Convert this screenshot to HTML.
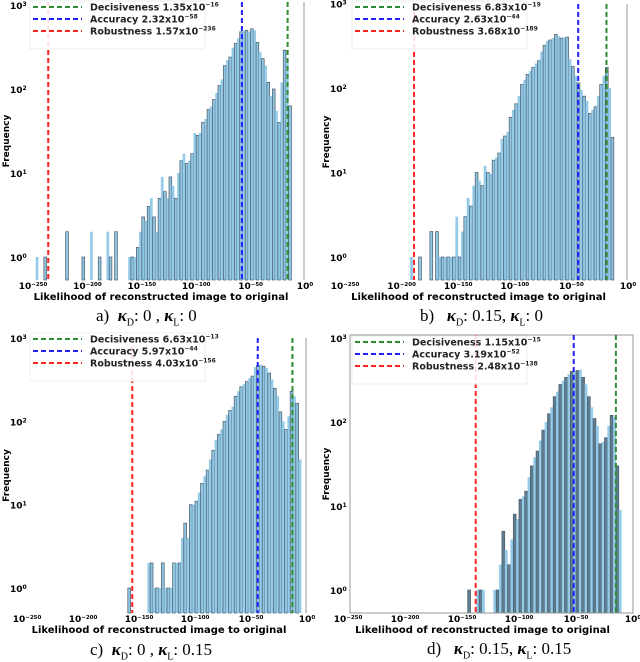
<!DOCTYPE html>
<html><head><meta charset="utf-8">
<style>
body{margin:0;background:#fff;width:640px;height:661px;overflow:hidden;font-family:"Liberation Sans","DejaVu Sans",sans-serif}
svg{position:absolute;left:0;top:0}
.cap{position:absolute;font-family:"Liberation Serif",serif;font-size:17px;white-space:nowrap}
.cap i{font-style:italic;font-weight:bold}
.cap sub{font-size:10px}
</style></head><body>
<svg id="chart" width="640" height="661"></svg>
<div class="cap" style="left:96px;top:306px">a)&nbsp; <i>κ</i><sub>D</sub>: 0 , <i>κ</i><sub>L</sub>: 0</div>
<div class="cap" style="left:420px;top:306px">b)&nbsp;&nbsp; <i>κ</i><sub>D</sub>: 0.15, <i>κ</i><sub>L</sub>: 0</div>
<div class="cap" style="left:90px;top:640px">c)&nbsp; <i>κ</i><sub>D</sub>: 0 , <i>κ</i><sub>L</sub>: 0.15</div>
<div class="cap" style="left:427px;top:639px">d)&nbsp;&nbsp; <i>κ</i><sub>D</sub>: 0.15, <i>κ</i><sub>L</sub>: 0.15</div>
<script>
// bins: log10 likelihood = -250 + 2.5*i ; arrays start at startIndex
const xTicks=[-250,-200,-150,-100,-50,0];
const yTicks=[0,1,2,3];
const startA=35;
const countsA=[1,1,1,1.3,2,3,2.7,4,5,3,2,5,9,6,5,9,7,5,10,14,17,13,14,17,30,28,30,40,44,57,62,75,90,110,130,190,220,240,310,350,400,480,490,500,480,520,500,360,275,230,190,120,83,100,55,40,120,290,210,63];
const sparseIdxA=[1,4,12,18,21,24,27,28,30];
const sparseValA=[1,1,2,1,2,1,2,1,2];
const startB=23;
const countsB=[1,0,0,1,0,0,0,2,0,2,1,1,1,1,1,1,3,1,2,3,5,4,7,10,8,7,12,10,9.6,14,15,17,25,27,30,45,55,65,80,110,125,145,160,175,195,210,270,320,360,370,390,430,410,390,395,400,220,180,140,115,95,80,70,50,55,60,80,110,140,175,100,26];
const startC=36;
const countsC=[1,0,0,0,0,0,0,2,2,1,1,1,2,1,1,1,2,2,2,4,6,4,10,10,11,14,18,22,26,35,45,60,70,80,100,120,135,150,200,230,260,280,300,330,350,450,470,480,460,440,380,320,250,200,130,100,80,115,230,200,165,35];
const startD=42;
const countsD=[1,0,0,1,1,1,0,0,0,1,1,2,5,3,2,4,8,7,12,13,15,22,30,38,45,60,80,100,125,150,200,230,280,310,340,370,400,400,410,420,340,280,200,150,110,90,55,58,65,90,120,115,30,9];
const legendLabels=["Decisiveness","Accuracy","Robustness"];
const legendColors=["#2e8b2e","#1f1fff","#ff2020"];
const mantA=[1.35,2.32,1.57], expA=[-16,-58,-236];
const mantB=[6.83,2.63,3.68], expB=[-19,-44,-189];
const mantC=[6.63,5.97,4.03], expC=[-13,-44,-156];
const mantD=[1.15,3.19,2.48], expD=[-15,-52,-138];

const NS="http://www.w3.org/2000/svg";
const svg=document.getElementById('chart');
function mk(tag,attrs,parent){const e=document.createElementNS(NS,tag);for(const k in attrs)e.setAttribute(k,attrs[k]);(parent||svg).appendChild(e);return e;}

function panel(p){
  const g=mk('g',{});
  
  
  const xs=v=>p.x0+(v+250)/250*(p.x1-p.x0);
  const ys=c=>p.y0-Math.log10(c)*p.dec;
  const bins=p.counts.map((c,k)=>[p.start+k,c]);
  if(p.sIdx)p.sIdx.forEach((i,k)=>bins.push([i,p.sVal[k]]));
  const bw=(p.x1-p.x0)/100;
  bins.forEach(([i,c])=>{
    if(!c)return;
    const x=xs(-250+2.5*i), y=ys(c);
    const dark=i%2===0;
    const r=mk('rect',{x:x,y:y,width:bw,height:Math.max(0,p.bot-y),fill:dark?p.darkFill:'#93cbe9',stroke:dark?'#4b5a66':'none','stroke-width':0.7},g);
    
    
  });
  if(p.box){mk('rect',{x:p.x0+2,y:p.top,width:p.x1-p.x0-2,height:p.bot-p.top,fill:'none',stroke:'#999','stroke-width':1},g);}
  else{const l=mk('line',{x1:p.x1-1,x2:p.x1-1,y1:p.top,y2:p.bot,stroke:'#aaa','stroke-width':1.2},g);}
  [0,1,2].forEach(k=>{
    const x=xs(p.exps[k]);
    const l=mk('line',{x1:x,x2:x,y1:p.top,y2:p.bot,stroke:legendColors[k],'stroke-width':2,'stroke-dasharray':'5,3'},g);
    
    
  });
  const lg=mk('g',{},g);
  
  
  mk('rect',{x:p.lx,y:p.ly,width:175,height:48,fill:'rgba(255,255,255,0.85)',stroke:'#eee'},lg);
  [0,1,2].forEach(k=>{
    const yy=p.ly+6+k*12;
    mk('line',{x1:p.lx+3,x2:p.lx+52,y1:yy,y2:yy,stroke:legendColors[k],'stroke-width':2,'stroke-dasharray':'5,3'},lg);
    const t=mk('text',{x:p.lx+60,y:yy+3.5,'font-size':9.5,'font-weight':'bold',fill:'#222','font-family':'"DejaVu Sans",sans-serif'},lg);
    t.textContent=legendLabels[k]+' '+p.mants[k].toFixed(2)+'x10';
    const s=mk('tspan',{dy:-4,'font-size':6},t);s.textContent='−'+Math.abs(p.exps[k]);
  });
  xTicks.forEach(v=>{
    const t=mk('text',{x:xs(v),y:p.bot+9,'font-size':9,'font-weight':'bold','text-anchor':'middle','font-family':'"DejaVu Sans",sans-serif'},g);
    t.textContent='10';const s=mk('tspan',{dy:-3,'font-size':5.5},t);s.textContent=v===0?'0':'−'+(-v);
  });
  yTicks.forEach(v=>{
    const t=mk('text',{x:p.left+10,y:ys(Math.pow(10,v))+4,'font-size':9,'font-weight':'bold','font-family':'"DejaVu Sans",sans-serif'},g);
    t.textContent='10';const s=mk('tspan',{dy:-3,'font-size':6},t);s.textContent=v;
  });
  const xl=mk('text',{x:(p.x0+p.x1)/2-8,y:p.bot+20,'font-size':10,'font-weight':'bold','text-anchor':'middle','font-family':'"DejaVu Sans",sans-serif'},g);
  xl.textContent='Likelihood of reconstructed image to original';
  
  const yc=(p.top+p.bot)/2;
  const yl=mk('text',{x:0,y:0,'font-size':9,'font-weight':'bold','text-anchor':'middle','font-family':'"DejaVu Sans",sans-serif',transform:`translate(${p.left+9},${yc}) rotate(-90)`},g);
  yl.textContent='Frequency';
  
}
panel({id:'a',left:0,x0:33,x1:305,y0:257,dec:84,bot:280,top:2,start:startA,counts:countsA,sIdx:sparseIdxA,sVal:sparseValA,mants:mantA,exps:expA,lx:30,ly:1,darkFill:'#8fc6e4'});
panel({id:'b',left:320,x0:345,x1:628,y0:257,dec:84.5,bot:280,top:4,start:startB,counts:countsB,mants:mantB,exps:expB,lx:352,ly:1,darkFill:'#8fc6e4'});
panel({id:'c',left:0,x0:27,x1:307,y0:588,dec:83.3,bot:613,top:338,start:startC,counts:countsC,mants:mantC,exps:expC,lx:30,ly:333,darkFill:'#8fc6e4'});
panel({id:'d',left:320,x0:348,x1:633,y0:590,dec:84,bot:613,top:335,start:startD,counts:countsD,mants:mantD,exps:expD,lx:352,ly:336,darkFill:'#5c7d92',box:true});
</script>
</body></html>
